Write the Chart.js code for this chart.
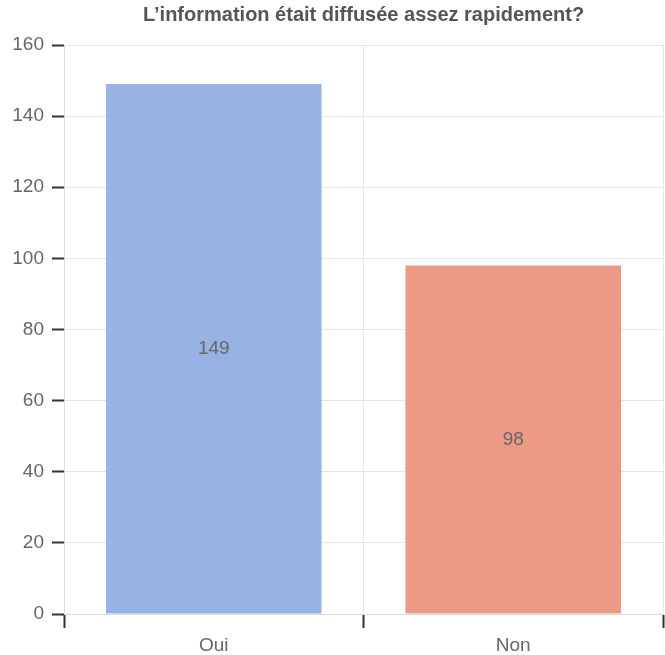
<!DOCTYPE html>
<html>
<head>
<meta charset="utf-8">
<script src="https://cdn.jsdelivr.net/npm/chart.js@4/dist/chart.umd.min.js"></script>
<style>
html,body{margin:0;padding:0;background:#fff;}
#wrap{width:665px;height:655px;position:relative;}
</style>
</head>
<body>
<div id="wrap"><canvas id="c"></canvas></div>
<script>
const categories = ["Oui", "Non"];
const values = [149, 98];
const barColors = ["#98b2e3", "#ec9a85"];
const yTicks = [0, 20, 40, 60, 80, 100, 120, 140, 160];
const titleText = "L\u2019information était diffusée assez rapidement?";

const FONT = '"Liberation Sans", Arial, sans-serif';

const labelPlugin = {
  id: 'centerLabels',
  afterDatasetsDraw(chart) {
    const ctx = chart.ctx;
    const meta = chart.getDatasetMeta(0);
    ctx.save();
    ctx.font = '19px ' + FONT;
    ctx.fillStyle = '#666';
    ctx.textAlign = 'center';
    ctx.textBaseline = 'middle';
    meta.data.forEach((el, i) => {
      const p = el.getCenterPoint();
      ctx.fillText(String(chart.data.datasets[0].data[i]), p.x, p.y);
    });
    ctx.restore();
  }
};

new Chart(document.getElementById('c'), {
  type: 'bar',
  data: {
    labels: categories,
    datasets: [{
      data: values,
      backgroundColor: barColors,
      borderWidth: 0,
      categoryPercentage: 0.72,
      barPercentage: 1.0
    }]
  },
  options: {
    responsive: true,
    maintainAspectRatio: false,
    animation: false,
    devicePixelRatio: 1,
    layout: { padding: { left: 0, right: 2, top: 0, bottom: 0 } },
    plugins: {
      legend: { display: false },
      tooltip: { enabled: false },
      title: {
        display: true,
        text: titleText,
        fullSize: false,
        color: '#555',
        font: { family: FONT, size: 20, weight: 'bold', lineHeight: 1.2 },
        padding: { top: 3, bottom: 18 }
      }
    },
    scales: {
      x: {
        afterFit(scale) { scale.height = 41; },
        grid: { color: '#e6e6e6', tickColor: '#333', tickLength: 14, tickWidth: 2, offset: true },
        border: { color: '#dcdcdc' },
        ticks: { color: '#666', padding: 8, font: { family: FONT, size: 19, lineHeight: 1 } }
      },
      y: {
        min: 0, max: 160,
        afterFit(scale) { scale.width = 64; },
        afterBuildTicks(scale) { scale.ticks = yTicks.map(v => ({ value: v })); },
        grid: { color: '#e6e6e6', tickColor: '#333', tickLength: 12, tickWidth: 2 },
        border: { color: '#dcdcdc' },
        ticks: { color: '#666', padding: 8, font: { family: FONT, size: 19 } }
      }
    }
  },
  plugins: [labelPlugin]
});
</script>
</body>
</html>
